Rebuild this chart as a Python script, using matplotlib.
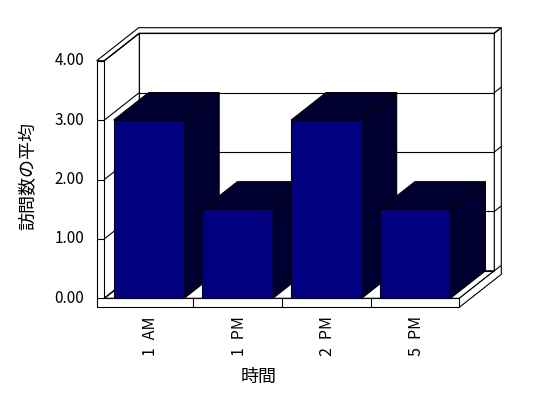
import matplotlib
matplotlib.use("Agg")
import matplotlib.pyplot as plt
from matplotlib.patches import Polygon

plt.rcParams['font.family'] = ['Noto Sans CJK JP', 'DejaVu Sans']

# ---- data ----
categories = ['1 AM', '1 PM', '2 PM', '5 PM']
values = [3.0, 1.5, 3.0, 1.5]
y_ticks = [0.0, 1.0, 2.0, 3.0, 4.0]
y_tick_labels = ['0.00', '1.00', '2.00', '3.00', '4.00']
x_title = '時間'
y_title = '訪問数の平均'

# ---- layout (pixels of a 548x398 canvas) ----
W_PX, H_PX = 548, 398
ORIGIN_X, ORIGIN_Y = 104.3, 298.3        # front plane (cat 0, value 0), from top
PX_PER_CAT, PX_PER_VAL = 88.75, 59.4
DEPTH_PX = (35.0, 27.5)
DX = DEPTH_PX[0] / PX_PER_CAT
DY = DEPTH_PX[1] / PX_PER_VAL
WALL_T = 7.6 / PX_PER_CAT      # left wall thickness (category units)
FLOOR_T = 9.0 / PX_PER_VAL     # floor thickness (value units)
BACK_T = 0.2                   # back wall thickness (depth units)
BAR_LEFT, BAR_W = 0.105, 0.795
NAVY = '#000080'
DARK = '#000030'
LW = 0.8

fig = plt.figure(figsize=(W_PX / 100, H_PX / 100), dpi=100)
ax = fig.add_axes([0, 0, 1, 1])
ax.set_xlim(-ORIGIN_X / PX_PER_CAT, (W_PX - ORIGIN_X) / PX_PER_CAT)
ax.set_ylim(-(H_PX - ORIGIN_Y) / PX_PER_VAL, ORIGIN_Y / PX_PER_VAL)
ax.axis('off')

ncat = len(categories)
ymax = y_ticks[-1]


def P(x, y, z):
    return (x + z * DX, y + z * DY)


def face(pts, fc='white', z=1):
    ax.add_patch(Polygon([P(*p) for p in pts], closed=True, facecolor=fc,
                         edgecolor='black', lw=LW, joinstyle='miter', zorder=z))


def line(p0, p1, z=2, **kw):
    a, b = P(*p0), P(*p1)
    ax.plot([a[0], b[0]], [a[1], b[1]], color='black', lw=LW, zorder=z,
            solid_capstyle='butt', **kw)


W = ncat
# back wall inner face
face([(0, 0, 1), (W, 0, 1), (W, ymax, 1), (0, ymax, 1)])
# left wall inner face
face([(0, 0, 0), (0, ymax, 0), (0, ymax, 1), (0, 0, 1)])
# floor top
face([(0, 0, 0), (W, 0, 0), (W, 0, 1), (0, 0, 1)])
# top of left wall + back wall
face([(-WALL_T, ymax, 0), (0, ymax, 0), (0, ymax, 1), (W, ymax, 1),
      (W, ymax, 1 + BACK_T), (-WALL_T, ymax, 1 + BACK_T)])
# right face of floor + back wall
face([(W, ymax, 1), (W, ymax, 1 + BACK_T), (W, -FLOOR_T, 1 + BACK_T),
      (W, -FLOOR_T, 0), (W, 0, 0), (W, 0, 1)])
# front face of left wall + floor
face([(-WALL_T, ymax, 0), (0, ymax, 0), (0, 0, 0), (W, 0, 0),
      (W, -FLOOR_T, 0), (-WALL_T, -FLOOR_T, 0)])

# gridlines and ticks
for yv in y_ticks:
    line((0, yv, 1), (W, yv, 1), z=1.5)
    line((0, yv, 0), (0, yv, 1), z=1.5)
    line((W, yv, 1), (W, yv, 1 + BACK_T), z=1.5)
    line((-WALL_T, yv, 0), (0, yv, 0), z=1.5)
for i in range(1, ncat):
    line((i, -FLOOR_T, 0), (i, 0, 0), z=1.5)

# bars
for i, v in enumerate(values):
    x0 = i + BAR_LEFT
    x1 = x0 + BAR_W
    zz = 3 + i
    face([(x1, 0, 0), (x1, 0, 1), (x1, v, 1), (x1, v, 0)], fc=DARK, z=zz)
    face([(x0, v, 0), (x1, v, 0), (x1, v, 1), (x0, v, 1)], fc=DARK, z=zz)
    face([(x0, 0, 0), (x1, 0, 0), (x1, v, 0), (x0, v, 0)], fc=NAVY, z=zz + 0.5)
    line((x1, v, 0.12), (x1, v, 1), z=zz + 0.2, linestyle=(0, (3, 2)))

# tick labels
lab_x = (84 - ORIGIN_X) / PX_PER_CAT
for yv, lab in zip(y_ticks, y_tick_labels):
    ax.text(lab_x, yv, lab, ha='right', va='center', fontsize=11, zorder=10)

cat_y = (ORIGIN_Y - 356) / PX_PER_VAL
for i, c in enumerate(categories):
    ax.text(i + 0.52, cat_y, c.replace(' ', '\u2002'), ha='center', va='bottom',
            rotation=90, fontsize=11.5, zorder=10)

fig.text(28.3 / W_PX, 1 - 175.8 / H_PX, y_title, rotation=90, ha='center',
         va='center', fontsize=13)
fig.text(259 / W_PX, 1 - 377 / H_PX, x_title, ha='center', va='center',
         fontsize=13)

fig.savefig('out.png', dpi=100)
